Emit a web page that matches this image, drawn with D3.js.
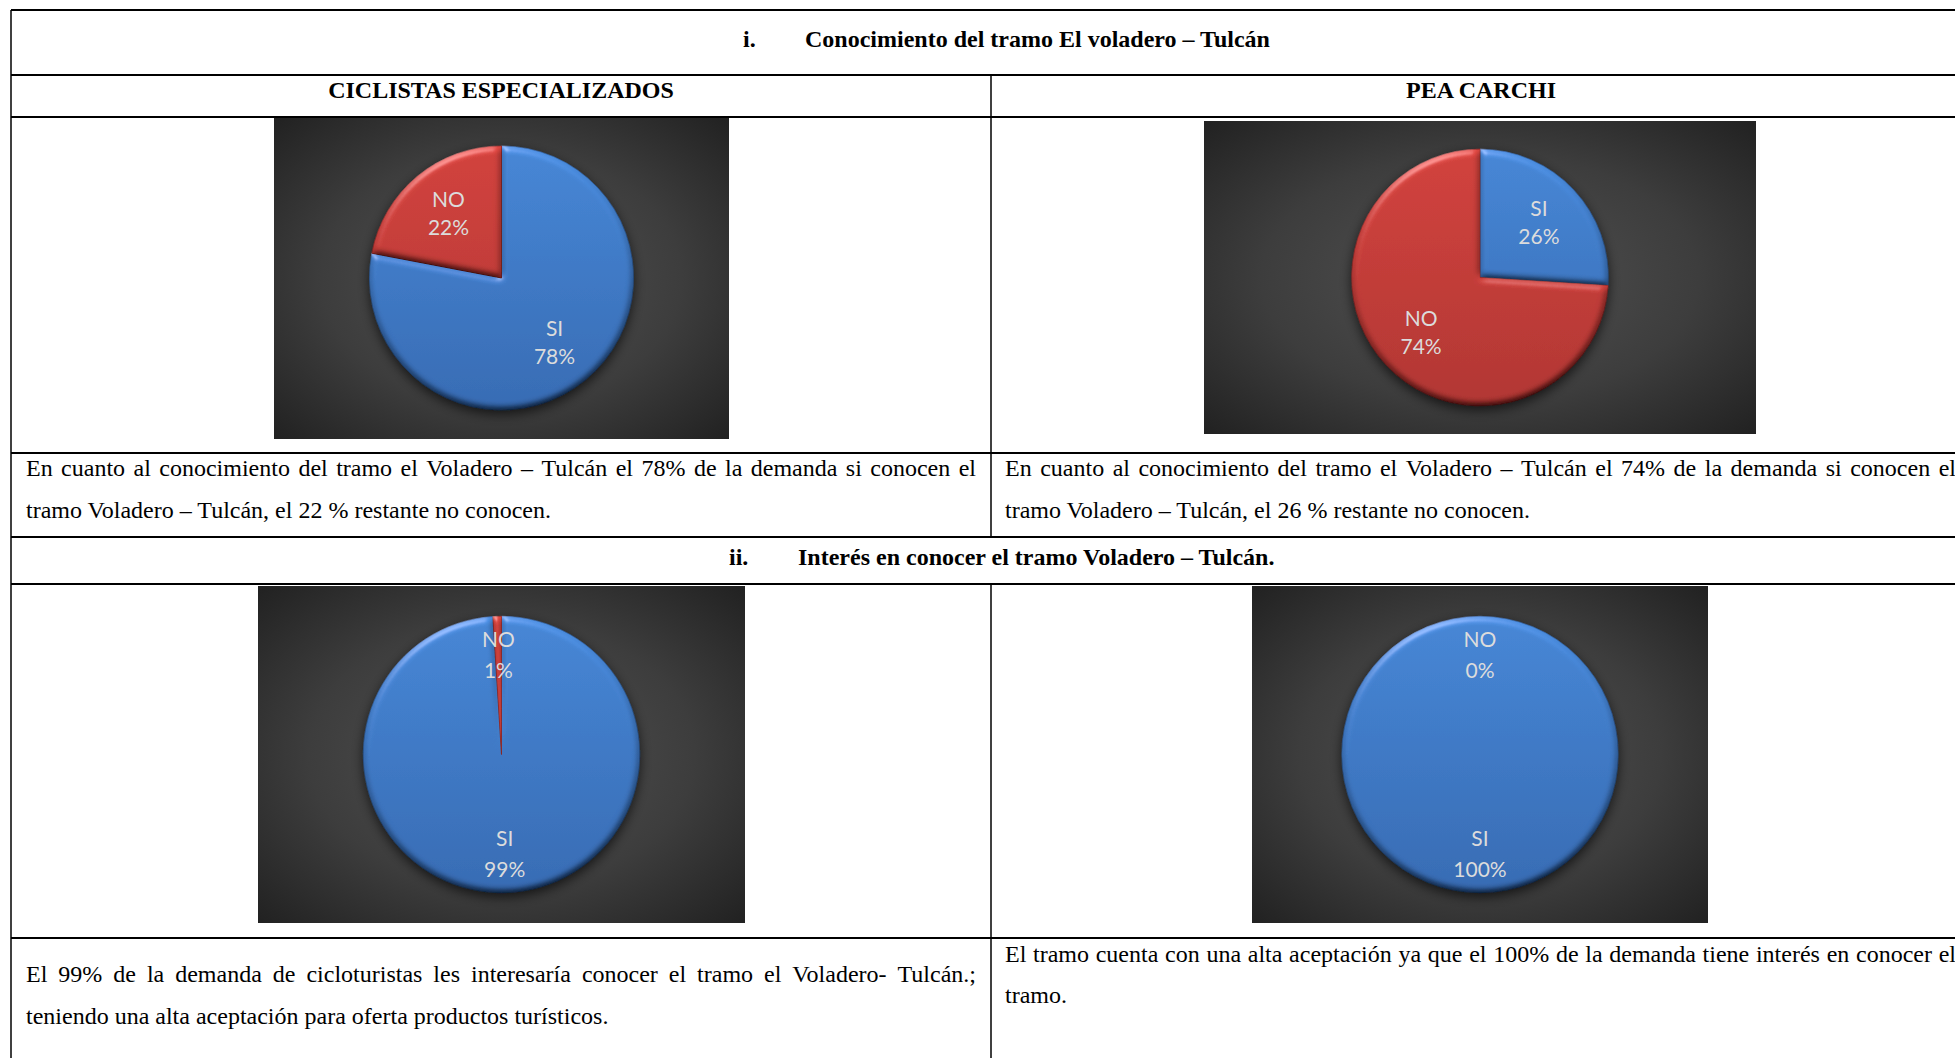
<!DOCTYPE html>
<html>
<head>
<meta charset="utf-8">
<script src="https://cdn.jsdelivr.net/npm/d3@7"></script>
<style>
  html, body { margin: 0; padding: 0; background: #fff; overflow: hidden; }
  svg text { font-family: "Liberation Serif", "Times New Roman", serif; font-size: 24px; fill: #000; }
  svg text.bold { font-weight: bold; }
  svg text.lbl { font-family: Lato, "Open Sans", sans-serif; font-size: 21px; fill: #dcdcdc; }
</style>
</head>
<body>
<svg width="1955" height="1058"></svg>
<script>
// data
const categories = ["SI", "NO"];
const ciclistasConocimiento = [78, 22];
const peaConocimiento = [26, 74];
const ciclistasInteres = [99, 1];
const peaInteres = [100, 0];

const sectionNums = ["i.", "ii."];
const sectionTitles = [
  "Conocimiento del tramo El voladero – Tulcán",
  "Interés en conocer el tramo Voladero – Tulcán."
];
const columnHeaders = ["CICLISTAS ESPECIALIZADOS", "PEA CARCHI"];
const notes = [
  ["En cuanto al conocimiento del tramo el Voladero – Tulcán el 78% de la demanda si conocen el",
   "tramo Voladero – Tulcán, el 22 % restante no conocen."],
  ["En cuanto al conocimiento del tramo el Voladero – Tulcán el 74% de la demanda si conocen el",
   "tramo Voladero – Tulcán, el 26 % restante no conocen."],
  ["El 99% de la demanda de cicloturistas les interesaría conocer el tramo el Voladero- Tulcán.;",
   "teniendo una alta aceptación para oferta productos turísticos."],
  ["El tramo cuenta con una alta aceptación ya que el 100% de la demanda tiene interés en conocer el",
   "tramo."]
];

(function () {
  let svg = d3.select("svg"),
      width = +svg.attr("width"),
      height = +svg.attr("height");

  // table grid
  let tbl = { left: 11, mid: 991, right: 1971 },
      rules = [10, 75, 117, 453, 537, 584, 938];

  let charts = [
    { values: ciclistasConocimiento, box: [274, 117, 455, 322], labelR: 0.63, gap: 28 },
    { values: peaConocimiento, box: [1204, 121, 552, 313], labelR: 0.63, gap: 28 },
    { values: ciclistasInteres, box: [258, 586, 487, 337], labelR: 0.72, gap: 30.5 },
    { values: peaInteres, box: [1252, 586, 456, 337], labelR: 0.72, gap: 30.5 }
  ];

  let noteSlots = [
    { x: 26, w: 950, y: [476, 518] },
    { x: 1005, w: 951, y: [476, 518] },
    { x: 26, w: 950, y: [982, 1024] },
    { x: 1005, w: 951, y: [962, 1003] }
  ];

  let color = d3.scaleOrdinal().domain(categories).range(["#4583d2", "#c93f3c"]);
  let shade = {
    SI: ["#4787d6", "#386cb4"],
    NO: ["#d2433e", "#b23734"]
  };

  let defs = svg.append("defs");

  let bg = defs.append("radialGradient").attr("id", "bg")
      .attr("cx", "50%").attr("cy", "50%").attr("r", "72%");
  bg.append("stop").attr("offset", "0%").attr("stop-color", "#525252");
  bg.append("stop").attr("offset", "55%").attr("stop-color", "#3d3d3d");
  bg.append("stop").attr("offset", "100%").attr("stop-color", "#202020");

  // soft bevel: diffuse shading plus a thin highlight on edges facing up-left
  let bevel = defs.append("filter").attr("id", "bevel")
      .attr("x", "-5%").attr("y", "-5%").attr("width", "110%").attr("height", "110%");
  bevel.append("feGaussianBlur").attr("in", "SourceAlpha").attr("stdDeviation", 3.5).attr("result", "blur");
  bevel.append("feDiffuseLighting").attr("in", "blur").attr("surfaceScale", 5)
      .attr("diffuseConstant", 1).attr("lighting-color", "#fff").attr("result", "light")
    .append("feDistantLight").attr("azimuth", 260).attr("elevation", 55);
  bevel.append("feComposite").attr("in", "SourceGraphic").attr("in2", "light")
      .attr("operator", "arithmetic").attr("k1", 1.22).attr("k2", 0).attr("k3", 0).attr("k4", 0)
      .attr("result", "shaded");
  bevel.append("feSpecularLighting").attr("in", "blur").attr("surfaceScale", 5)
      .attr("specularConstant", 0.6).attr("specularExponent", 25)
      .attr("lighting-color", "#fff").attr("result", "spec")
    .append("feDistantLight").attr("azimuth", 245).attr("elevation", 15);
  bevel.append("feComposite").attr("in", "spec").attr("in2", "SourceAlpha")
      .attr("operator", "in").attr("result", "specIn");
  bevel.append("feComposite").attr("in", "shaded").attr("in2", "specIn")
      .attr("operator", "arithmetic").attr("k1", 0).attr("k2", 1).attr("k3", 0.35).attr("k4", 0);

  let shadow = defs.append("filter").attr("id", "shadow")
      .attr("x", "-20%").attr("y", "-20%").attr("width", "140%").attr("height", "140%");
  shadow.append("feDropShadow").attr("dx", 0).attr("dy", 4).attr("stdDeviation", 6)
      .attr("flood-color", "#000").attr("flood-opacity", 0.65);

  function draw() {
    let grid = svg.append("g").attr("class", "grid");

    // charts
    let pie = d3.pie().sort(null).value(d => d);

    charts.forEach((c, ci) => {
      let [bx, by, bw, bh] = c.box,
          r = bh * 0.41,
          cx = bx + bw / 2,
          cy = by + bh / 2;

      svg.append("rect")
          .attr("x", bx).attr("y", by).attr("width", bw).attr("height", bh)
          .attr("fill", "url(#bg)");

      categories.forEach(cat => {
        let lg = defs.append("linearGradient").attr("id", `g${ci}${cat}`)
            .attr("gradientUnits", "userSpaceOnUse")
            .attr("x1", 0).attr("x2", 0).attr("y1", -r).attr("y2", r);
        lg.append("stop").attr("offset", "0%").attr("stop-color", shade[cat][0]);
        lg.append("stop").attr("offset", "100%").attr("stop-color", shade[cat][1]);
      });

      let arc = d3.arc().innerRadius(0).outerRadius(r),
          labelArc = d3.arc().innerRadius(r * c.labelR).outerRadius(r * c.labelR),
          arcs = pie(c.values);

      let g = svg.append("g").attr("transform", `translate(${cx},${cy})`);

      g.append("g")
          .attr("filter", "url(#shadow)")
        .selectAll("path")
        .data(arcs.filter(d => d.value > 0))
        .enter().append("path")
          .attr("d", arc)
          .attr("fill", d => `url(#g${ci}${categories[d.index]})`)
          .attr("stroke", d => d3.color(color(categories[d.index])).darker(0.8))
          .attr("stroke-width", 0.6)
          .attr("filter", "url(#bevel)");

      let lbl = g.selectAll("text")
        .data(arcs)
        .enter().append("text")
          .attr("class", "lbl")
          .attr("text-anchor", "middle")
          .attr("transform", d => {
            // a zero slice sits at the top, like the source
            let p = d.value > 0 ? labelArc.centroid(d) : [0, -r * c.labelR];
            return `translate(${p[0]},${p[1]})`;
          });

      lbl.append("tspan")
          .attr("x", 0).attr("y", -c.gap / 2 + 7.5)
          .text(d => categories[d.index]);
      lbl.append("tspan")
          .attr("x", 0).attr("y", c.gap / 2 + 7.5)
          .text(d => d.value + "%");
    });

    // rules
    grid.selectAll("line.h")
      .data(rules)
      .enter().append("line")
        .attr("x1", tbl.left).attr("x2", tbl.right)
        .attr("y1", d => d).attr("y2", d => d)
        .attr("stroke", "#000").attr("stroke-width", 2);

    let verticals = [
      [tbl.left, rules[0], height],
      [tbl.mid, rules[1], rules[4]],
      [tbl.mid, rules[5], height],
      [tbl.right, rules[0], height]
    ];
    grid.selectAll("line.v")
      .data(verticals)
      .enter().append("line")
        .attr("x1", d => d[0]).attr("x2", d => d[0])
        .attr("y1", d => d[1]).attr("y2", d => d[2])
        .attr("stroke", "#000").attr("stroke-width", 1.5);

    grid.raise();

    // section titles
    let titlePos = [
      { numX: 743, x: 805, y: 47 },
      { numX: 729, x: 798, y: 565 }
    ];
    titlePos.forEach((p, i) => {
      svg.append("text").attr("class", "bold").attr("x", p.numX).attr("y", p.y).text(sectionNums[i]);
      svg.append("text").attr("class", "bold").attr("x", p.x).attr("y", p.y).text(sectionTitles[i]);
    });

    // column headers
    svg.selectAll("text.head")
      .data(columnHeaders)
      .enter().append("text")
        .attr("class", "bold head")
        .attr("text-anchor", "middle")
        .attr("x", (d, i) => i === 0 ? (tbl.left + tbl.mid) / 2 : (tbl.mid + tbl.right) / 2)
        .attr("y", 98)
        .text(d => d);

    // justified notes
    notes.forEach((lines, ni) => {
      let slot = noteSlots[ni];
      lines.forEach((line, li) => {
        let t = svg.append("text").attr("y", slot.y[li]);
        if (li === lines.length - 1) {
          t.attr("x", slot.x).text(line);
          return;
        }
        let words = line.split(" "),
            spans = words.map(w => t.append("tspan").text(w)),
            widths = spans.map(s => s.node().getComputedTextLength()),
            gap = (slot.w - d3.sum(widths)) / (words.length - 1),
            x = slot.x;
        spans.forEach((s, i) => {
          s.attr("x", x);
          x += widths[i] + gap;
        });
      });
    });
  }

  if (document.fonts && document.fonts.ready) document.fonts.ready.then(draw);
  else draw();
})();
</script>
</body>
</html>
